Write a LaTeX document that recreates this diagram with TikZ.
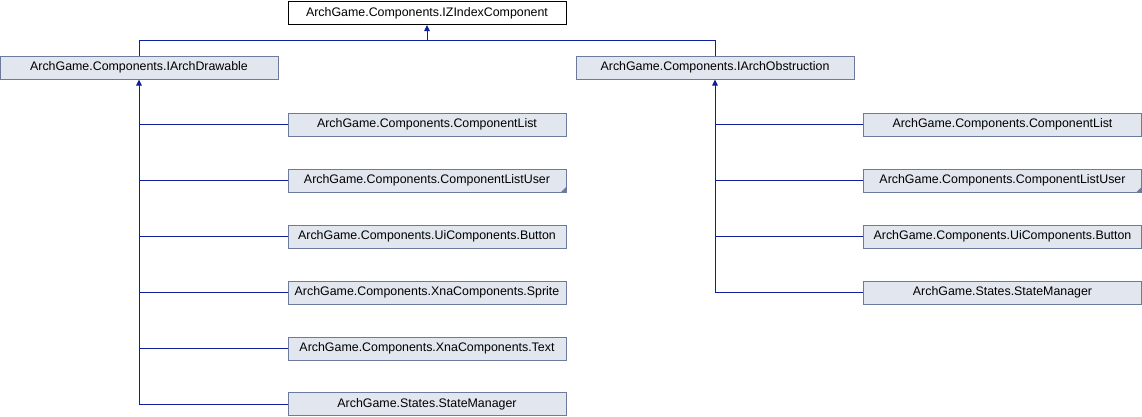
\documentclass[tikz,border=0pt]{standalone}
\usepackage{fontspec}
\setmainfont{Liberation Sans}
\usetikzlibrary{arrows.meta}
\definecolor{boxfill}{HTML}{E2E6EE}
\definecolor{boxline}{HTML}{6C7A9C}
\definecolor{edgecol}{HTML}{10209A}
\tikzset{
  cls/.style={draw=boxline, fill=boxfill, line width=1pt, minimum width=278pt, minimum height=23pt, inner sep=0pt, font=\fontsize{12.4}{14}\selectfont},
  topcls/.style={cls, draw=black, fill=white},
  edge/.style={draw=edgecol, line width=0.9pt},
  inh/.style={edge, {Triangle[width=5.5pt,length=6pt]}-},
  corner/.style={fill=boxline},
}
\begin{document}
\begin{tikzpicture}[x=1pt,y=-1pt]
\useasboundingbox (0,0) rectangle (1142,416);
\node[topcls] (top) at (427,13) {ArchGame.Components.IZIndexComponent};
\node[cls] (drw) at (139,67.5) {ArchGame.Components.IArchDrawable};
\node[cls] (obs) at (715,67.5) {ArchGame.Components.IArchObstruction};
\node[cls] (l1) at (427,124.5) {ArchGame.Components.ComponentList};
\node[cls] (l2) at (427,180.5) {ArchGame.Components.ComponentListUser};
\node[cls] (l3) at (427,236.5) {ArchGame.Components.UiComponents.Button};
\node[cls] (l4) at (427,292.5) {ArchGame.Components.XnaComponents.Sprite};
\node[cls] (l5) at (427,348.5) {ArchGame.Components.XnaComponents.Text};
\node[cls] (l6) at (427,404) {ArchGame.States.StateManager};
\node[cls] (r1) at (1002.5,124.5) {ArchGame.Components.ComponentList};
\node[cls] (r2) at (1002.5,180.5) {ArchGame.Components.ComponentListUser};
\node[cls] (r3) at (1002.5,236.5) {ArchGame.Components.UiComponents.Button};
\node[cls] (r4) at (1002.5,292.5) {ArchGame.States.StateManager};
\fill[corner] ([xshift=-6pt]l2.south east) -- (l2.south east) -- ([yshift=6pt]l2.south east) -- cycle;
\fill[corner] ([xshift=-6pt]r2.south east) -- (r2.south east) -- ([yshift=6pt]r2.south east) -- cycle;
\coordinate (bus) at (427,40);
\draw[inh] (top.south) -- (bus);
\draw[edge] (drw.north) -- (drw.north |- bus) -- (obs.north |- bus) -- (obs.north);
\draw[inh] (drw.south) -- (drw.south |- l6.west) -- (l6.west);
\foreach \c in {l1,l2,l3,l4,l5} \draw[edge] (\c.west) -- (\c.west -| drw.south);
\draw[inh] (obs.south) -- (obs.south |- r4.west) -- (r4.west);
\foreach \c in {r1,r2,r3} \draw[edge] (\c.west) -- (\c.west -| obs.south);
\end{tikzpicture}
\end{document}
